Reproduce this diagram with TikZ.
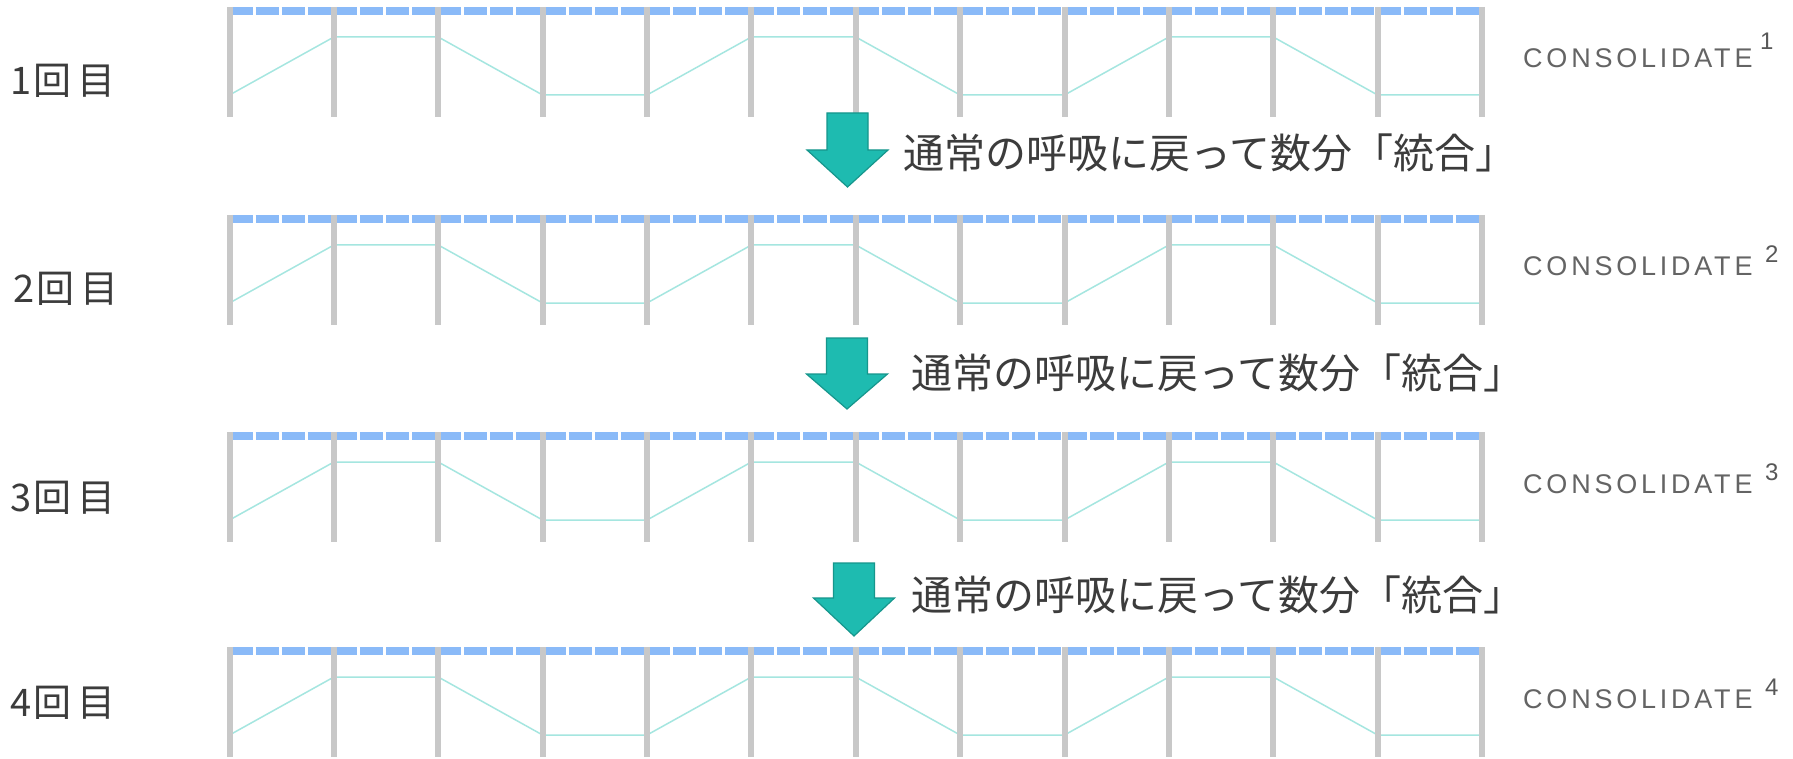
\documentclass[tikz,border=0pt]{standalone}
\usepackage{fontspec}
\newfontfamily\jpfont{Noto Sans CJK JP}
\newfontfamily\consfont[LetterSpace=14]{Liberation Sans}
\newfontfamily\supfont{Liberation Sans}
\definecolor{barblue}{RGB}{138,186,248}
\definecolor{postgray}{RGB}{200,200,200}
\definecolor{breathcyan}{RGB}{165,230,224}
\definecolor{arrowfill}{RGB}{30,187,176}
\definecolor{arrowedge}{RGB}{22,150,140}
\definecolor{darktext}{RGB}{60,60,60}
\definecolor{constext}{RGB}{100,100,100}
\definecolor{suptext}{RGB}{88,88,88}
\tikzset{
  barline/.style={draw=barblue, line width=8pt, dash pattern=on 23.09pt off 3pt},
  postline/.style={draw=postgray, line width=6pt},
  breath/.style={draw=breathcyan, line width=1.5pt, line join=round},
  blockarrow/.style={fill=arrowfill, draw=arrowedge, line width=1.2pt, line join=miter},
  rowlabel/.style={anchor=west, inner sep=0pt, text=darktext, font=\jpfont\fontsize{38}{42}\selectfont},
  notetext/.style={anchor=west, inner sep=0pt, text=darktext, font=\jpfont\fontsize{41}{45}\selectfont},
  constyle/.style={anchor=base west, inner sep=0pt, text=constext, font=\consfont\fontsize{27}{31}\selectfont},
  supstyle/.style={anchor=base west, inner sep=0pt, text=suptext, font=\supfont\fontsize{24}{28}\selectfont}
}
\begin{document}
\begin{tikzpicture}[x=1pt,y=-1pt]
\useasboundingbox (0,0) rectangle (1793,759);
\fill[white] (0,0) rectangle (1793,759);

\foreach \T/\r/\sx/\sy in {7/1/1760/43,215/2/1765/48,432/3/1765/48,647/4/1765/48} {
  % blue top bar
  \draw[barline] (229.5,\T+4) -- (1482,\T+4);
  % breathing line
  \draw[breath] (229.5,\T+88) -- (333.9,\T+30) -- (438.25,\T+30) -- (542.6,\T+88)
     -- (647,\T+88) -- (751.4,\T+30) -- (855.75,\T+30) -- (960.1,\T+88)
     -- (1064.5,\T+88) -- (1168.9,\T+30) -- (1273.25,\T+30) -- (1377.6,\T+88)
     -- (1482,\T+88);
  % posts
  \foreach \i in {0,...,12} {
    \draw[postline] (229.5+104.375*\i,\T) -- (229.5+104.375*\i,\T+110);
  }
  % labels
  \node[constyle] (cons\r) at (1523,\T+61) {CONSOLIDATE};
  \node[supstyle] (sup\r) at (\sx,\T+\sy) {\r};
}

\node[rowlabel] (lab1) at (10,81) {1\kern2pt 回\kern6pt 目};
\node[rowlabel] (lab2) at (13,289) {2\kern2pt 回\kern6pt 目};
\node[rowlabel] (lab3) at (10,498) {3\kern2pt 回\kern6pt 目};
\node[rowlabel] (lab4) at (10,703) {4\kern2pt 回\kern6pt 目};

% block arrows
\foreach \top/\hy/\tip/\cx/\n in {113/150/187/847.5/1, 338/374/409/847/2, 563/598/636/854/3} {
  \draw[blockarrow] (\cx-20.5,\top) -- (\cx+20.5,\top) -- (\cx+20.5,\hy) -- (\cx+40.5,\hy)
     -- (\cx,\tip) -- (\cx-40.5,\hy) -- (\cx-20.5,\hy) -- cycle;
}

\node[notetext] (note1) at (903,153) {通常の呼吸に戻って数分「統合」};
\node[notetext] (note2) at (911,373) {通常の呼吸に戻って数分「統合」};
\node[notetext] (note3) at (911,595) {通常の呼吸に戻って数分「統合」};
\end{tikzpicture}
\end{document}
